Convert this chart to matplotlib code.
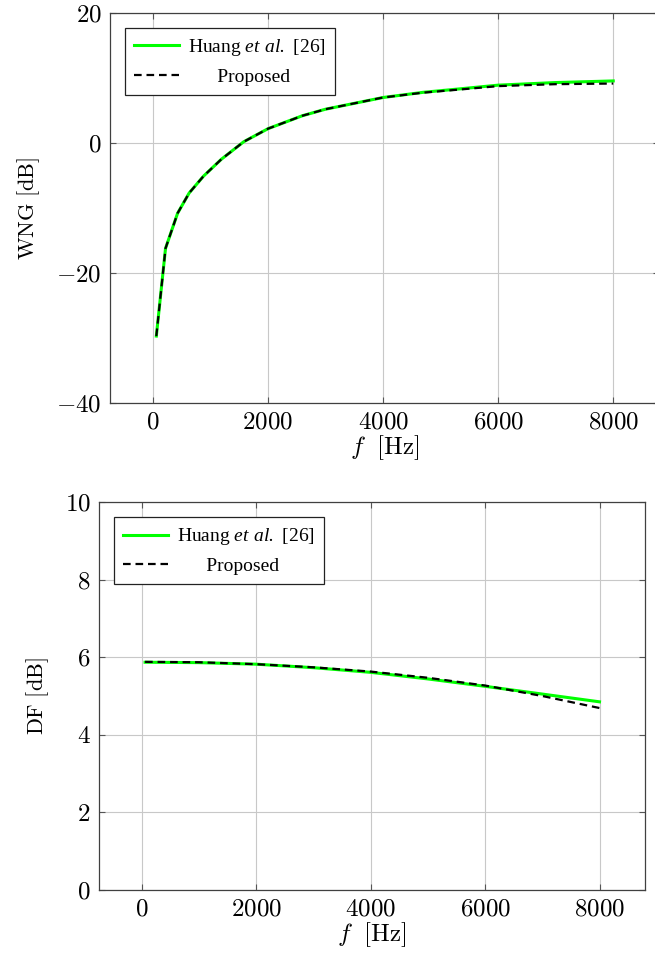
import numpy as np
import matplotlib
matplotlib.use("Agg")
import matplotlib.pyplot as plt
from matplotlib.ticker import FuncFormatter

# data
f_wng = [60, 220, 430, 630, 880, 1190, 1580, 2000, 2600, 3000, 3500, 4000,
         4700, 5300, 6000, 7000, 8000]
wng_huang = [-29.7, -16.2, -10.8, -7.7, -5.1, -2.5, 0.2, 2.2, 4.2, 5.2, 6.1,
             7.0, 7.8, 8.3, 8.9, 9.3, 9.55]
wng_prop = [-29.7, -16.2, -10.8, -7.7, -5.1, -2.5, 0.2, 2.2, 4.2, 5.2, 6.1,
            7.0, 7.75, 8.2, 8.75, 9.05, 9.15]

f_df = [60, 1000, 2000, 3000, 4000, 5000, 6000, 7000, 8000]
df_huang = [5.87, 5.86, 5.82, 5.73, 5.61, 5.44, 5.25, 5.05, 4.85]
df_prop = [5.88, 5.87, 5.82, 5.74, 5.63, 5.47, 5.27, 5.00, 4.69]

xticks = [0, 2000, 4000, 6000, 8000]
wng_yticks = [-40, -20, 0, 20]
df_yticks = [0, 2, 4, 6, 8, 10]

labels = [r"Huang $\mathsf{et\ al.}$ [26]", "      Proposed"]

plt.rcParams["font.family"] = "Liberation Serif"
plt.rcParams["mathtext.fontset"] = "custom"
plt.rcParams["mathtext.rm"] = "cmr10"
plt.rcParams["mathtext.it"] = "cmmi10"
plt.rcParams["mathtext.sf"] = "Liberation Serif:italic"
plt.rcParams["mathtext.fallback"] = "cm"
plt.rcParams["lines.scale_dashes"] = False

fig = plt.figure(figsize=(6.55, 9.67), dpi=100)
ax1 = fig.add_axes([110 / 655, 1 - 403 / 967, 549 / 655, 390 / 967])
ax2 = fig.add_axes([99 / 655, 1 - 890 / 967, 546 / 655, 388 / 967])

fmt = FuncFormatter(lambda v, p: r"$%g$" % v)


def style(ax, yticks, ylabel):
    ax.set_xlim(-745, 8795)
    ax.set_ylim(yticks[0], yticks[-1])
    ax.set_xticks(xticks)
    ax.set_yticks(yticks)
    ax.xaxis.set_major_formatter(fmt)
    ax.yaxis.set_major_formatter(fmt)
    ax.grid(True, color="#c8c8c8", lw=0.8)
    ax.set_axisbelow(True)
    ax.tick_params(direction="in", length=4.5, width=0.8, color="#555555",
                   top=True, right=True, labelsize=18, pad=6)
    for s in ax.spines.values():
        s.set_color("#404040")
        s.set_linewidth(0.9)
    ax.set_xlabel(r"$f\ \ \mathrm{[Hz]}$", fontsize=18, labelpad=0)
    ax.set_ylabel(ylabel, fontsize=16, labelpad=10)
    leg = ax.legend(loc="upper left", fontsize=14, frameon=True,
                    fancybox=False, edgecolor="#222222", framealpha=1,
                    handlelength=2.3, borderaxespad=0.75, labelspacing=0.5,
                    handletextpad=0.45, borderpad=0.5)
    leg.get_frame().set_linewidth(0.9)


ax1.plot(f_wng, wng_huang, color="#00ff00", lw=2.2, label=labels[0])
ax1.plot(f_wng, wng_prop, color="black", lw=1.6, dashes=(5.5, 3.5), label=labels[1])
style(ax1, wng_yticks, r"$\mathrm{WNG\ [dB]}$")

ax2.plot(f_df, df_huang, color="#00ff00", lw=2.2, label=labels[0])
ax2.plot(f_df, df_prop, color="black", lw=1.6, dashes=(5.5, 3.5), label=labels[1])
style(ax2, df_yticks, r"$\mathrm{DF\ [dB]}$")

fig.savefig("out.png", dpi=100)
